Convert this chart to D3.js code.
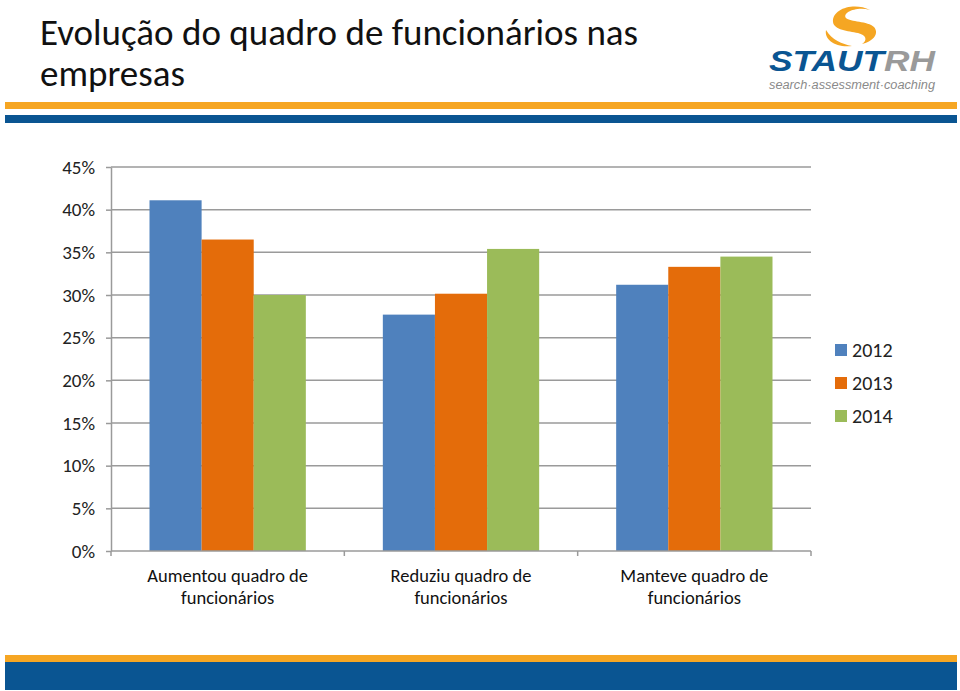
<!DOCTYPE html>
<html><head><meta charset="utf-8">
<script src="https://cdn.jsdelivr.net/npm/d3@7"></script>
<style>html,body{margin:0;padding:0;background:#fff;} svg{display:block;}</style>
</head><body>
<svg id="chart" width="960" height="691"></svg>
<script>
const titleLines = ["Evolução do quadro de funcionários nas", "empresas"];
const categories = [["Aumentou quadro de", "funcionários"], ["Reduziu quadro de", "funcionários"], ["Manteve quadro de", "funcionários"]];
const years = ["2012", "2013", "2014"];
const values2012 = [41.1, 27.7, 31.2];
const values2013 = [36.5, 30.15, 33.3];
const values2014 = [30.0, 35.4, 34.5];
const yTicks = [0, 5, 10, 15, 20, 25, 30, 35, 40, 45];
const colors = ["#4F81BD", "#E46C0A", "#9BBB59"];

(function () {
const series = [values2012, values2013, values2014];
const FONT = "Carlito, Calibri, Lato, 'Open Sans', sans-serif";
const svg = d3.select("#chart");

// header / footer stripes
svg.append("rect").attr("x", 5).attr("y", 102).attr("width", 952).attr("height", 7).attr("fill", "#F6A623");
svg.append("rect").attr("x", 5).attr("y", 115).attr("width", 952).attr("height", 8).attr("fill", "#0A5592");
svg.append("rect").attr("x", 5).attr("y", 655).attr("width", 952).attr("height", 7).attr("fill", "#F6A623");
svg.append("rect").attr("x", 5).attr("y", 662).attr("width", 952).attr("height", 28).attr("fill", "#0A5592");

// title
svg.append("g").selectAll("text").data(titleLines).join("text")
  .attr("x", 40).attr("y", (d, i) => 45 + i * 41)
  .attr("font-family", FONT).attr("font-size", 37).attr("fill", "#111")
  .text(d => d);

// logo
const logo = svg.append("g");
logo.append("path")
  .attr("d", "M870,10 C855,2 832,8 833,22 C834,30 848,31 858,33 C866,35 868,40 862,44 C872,42 880,34 874,27 C868,21 850,22 846,18 C842,13 856,6 870,10 Z")
  .attr("fill", "#F5A623");
logo.append("path")
  .attr("d", "M826,30 C824,40 836,48 852,46 C842,44 832,40 826,30 Z")
  .attr("fill", "#F5A623");
logo.append("text").attr("x", 769).attr("y", 71)
  .attr("font-family", "'Liberation Sans', Arial, sans-serif").attr("font-weight", "bold").attr("font-style", "italic")
  .attr("font-size", 30).attr("textLength", 166).attr("lengthAdjust", "spacingAndGlyphs")
  .call(t => { t.append("tspan").attr("fill", "#0A5592").text("STAUT"); t.append("tspan").attr("fill", "#9A9A9A").text("RH"); });
logo.append("text").attr("x", 769).attr("y", 89)
  .attr("font-family", "'Liberation Sans', Arial, sans-serif").attr("font-style", "italic")
  .attr("font-size", 12).attr("fill", "#8A8A8A").attr("textLength", 166).attr("lengthAdjust", "spacingAndGlyphs")
  .text("search·assessment·coaching");

// chart
const pl = 111, pr = 811, pt = 167, pb = 551;
const y = d3.scaleLinear().domain([0, 45]).range([pb, pt]);
const x0 = d3.scaleBand().domain(d3.range(categories.length)).range([pl, pr]).padding(0);
const gap = x0.bandwidth() * 0.165;
const x1 = d3.scaleBand().domain(years).range([gap, x0.bandwidth() - gap]).padding(0);

// gridlines
svg.append("g").selectAll("line").data(yTicks.filter(d => d > 0)).join("line")
  .attr("x1", pl).attr("x2", pr).attr("y1", d => y(d)).attr("y2", d => y(d))
  .attr("stroke", "#9a9a9a").attr("stroke-width", 1.5);

// y axis
const yAxis = svg.append("g").attr("transform", `translate(${pl},0)`)
  .call(d3.axisLeft(y).tickValues(yTicks).tickFormat(d => d + "%").tickSizeInner(5).tickSizeOuter(0).tickPadding(11));
yAxis.select(".domain").attr("stroke", "#9a9a9a").attr("stroke-width", 1.5);
yAxis.selectAll(".tick line").attr("stroke", "#9a9a9a").attr("stroke-width", 1.5);
yAxis.selectAll("text").attr("font-family", FONT).attr("font-size", 19).attr("fill", "#222");

// bars
const groups = svg.append("g").selectAll("g").data(categories).join("g")
  .attr("transform", (d, i) => `translate(${x0(i)},0)`);
groups.selectAll("rect").data((d, i) => years.map((yr, k) => ({ yr, v: series[k][i], k }))).join("rect")
  .attr("x", d => x1(d.yr)).attr("width", x1.bandwidth())
  .attr("y", d => y(d.v)).attr("height", d => pb - y(d.v))
  .attr("fill", d => colors[d.k]);

// x axis
const xAxisG = svg.append("g");
xAxisG.append("line").attr("x1", pl).attr("x2", pr).attr("y1", pb).attr("y2", pb)
  .attr("stroke", "#9a9a9a").attr("stroke-width", 1.5);
xAxisG.selectAll("line.tk").data(d3.range(categories.length + 1)).join("line").attr("class", "tk")
  .attr("x1", d => pl + d * x0.bandwidth()).attr("x2", d => pl + d * x0.bandwidth())
  .attr("y1", pb).attr("y2", pb + 5).attr("stroke", "#9a9a9a").attr("stroke-width", 1.5);
xAxisG.selectAll("text").data(categories).join("text")
  .attr("x", (d, i) => x0(i) + x0.bandwidth() / 2).attr("y", 582)
  .attr("text-anchor", "middle").attr("font-family", FONT).attr("font-size", 18.5).attr("fill", "#111")
  .selectAll("tspan").data(d => d).join("tspan")
  .attr("x", function () { return d3.select(this.parentNode).attr("x"); })
  .attr("dy", (d, i) => i === 0 ? 0 : 22).text(d => d);

// legend
const legend = svg.append("g").selectAll("g").data(years).join("g")
  .attr("transform", (d, i) => `translate(835,${344 + i * 33})`);
legend.append("rect").attr("width", 12).attr("height", 12).attr("fill", (d, i) => colors[i]);
legend.append("text").attr("x", 17).attr("y", 13)
  .attr("font-family", FONT).attr("font-size", 20).attr("fill", "#222").text(d => d);
})();
</script>
</body></html>
